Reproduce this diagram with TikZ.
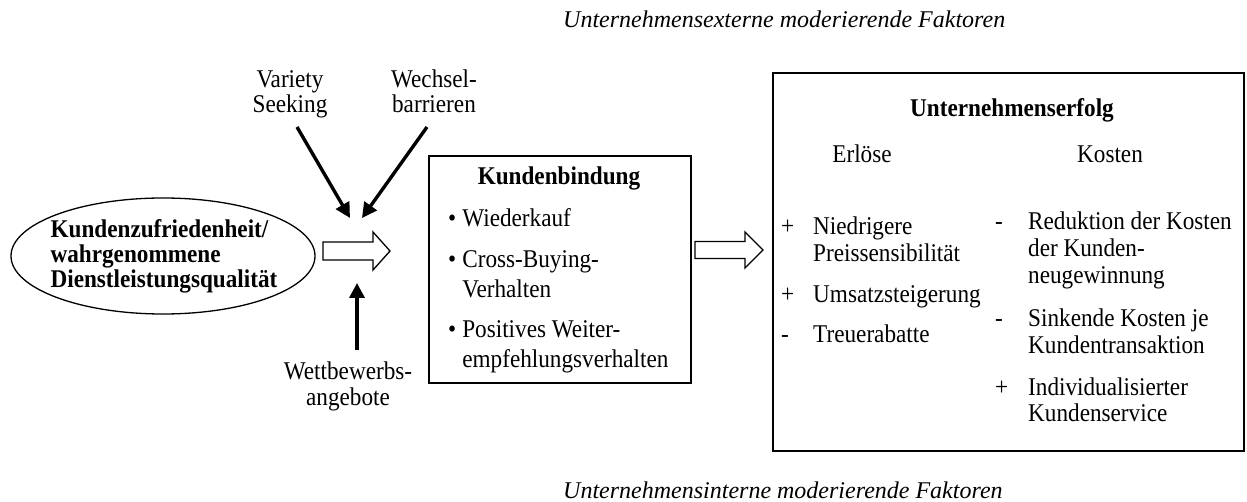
\documentclass[tikz,border=0pt]{standalone}
\usepackage{fontspec}
\setmainfont{Liberation Serif}
\usetikzlibrary{arrows.meta,shapes.geometric}
\begin{document}
\begin{tikzpicture}[x=1pt,y=-1pt,
  txt/.style={inner sep=0, yscale=1.1, font=\fontsize{23.2}{23.6}\selectfont},
  headtxt/.style={txt, font=\fontsize{23.2}{23.6}\selectfont\bfseries},
  facttxt/.style={inner sep=0, anchor=base west, font=\fontsize{24}{26}\selectfont\itshape},
  box/.style={draw, line width=1.6pt, inner sep=0, anchor=north west},
  blockarrow/.style={draw, line width=1.3pt, fill=white, line join=miter},
  influence/.style={line width=3.4pt, -{Triangle[length=15pt,width=15pt]}}]

\useasboundingbox (0,0) rectangle (1247,502);

% moderating factors (external / internal)
\node[facttxt] (extern) at (563,28) {Unternehmensexterne moderierende Faktoren};
\node[facttxt] (intern) at (563,498) {Unternehmensinterne moderierende Faktoren};

% satisfaction ellipse
\node[draw, ellipse, line width=1.3pt, minimum width=304, minimum height=116, inner sep=0] (sat) at (163,256) {};
\node[headtxt, align=left, font=\fontsize{23.2}{22.8}\selectfont\bfseries] (sattext) at (164,256)
  {Kundenzufriedenheit/\\wahrgenommene\\Dienstleistungsqualität};

% block arrow: satisfaction -> loyalty
\coordinate (a1) at (323,251);
\draw[blockarrow] (a1) ++(0,-9) -- ++(50,0) -- ++(0,-10) -- ++(17,19) -- ++(-17,19) -- ++(0,-10) -- ++(-50,0) -- cycle;

% moderating influences (base anchor = last line)
\node[txt, align=center, anchor=base] (vs) at (290,113) {Variety\\Seeking};
\node[txt, align=center, anchor=base] (wb) at (434,113) {Wechsel-\\barrieren};
\node[txt, align=center, anchor=base] (wa) at (348,405) {Wettbewerbs-\\angebote};
\coordinate (vsTail) at (297,127);
\coordinate (vsTip) at (350,218);
\coordinate (wbTail) at (427,127);
\coordinate (wbTip) at (362,218);
\coordinate (waTail) at (357,350);
\coordinate (waTip) at (357,283);
\draw[influence] (vsTail) -- (vsTip);
\draw[influence] (wbTail) -- (wbTip);
\draw[influence] (waTail) -- (waTip);

% customer loyalty box
\node[box, minimum width=262, minimum height=227] (kb) at (428,155) {};
\node[headtxt, anchor=base] (kbtitle) at (559,185) {Kundenbindung};
\node[txt, anchor=base west] (kblist) at (448,227) {\fontsize{23.2}{27.3}\selectfont
  \begin{tabular}[t]{@{}l@{\hspace{6pt}}l@{}}
  \textbullet & Wiederkauf\\[9.1pt]
  \textbullet & Cross-Buying-\\
              & Verhalten\\[9.1pt]
  \textbullet & Positives Weiter-\\
              & empfehlungsverhalten
  \end{tabular}};

% block arrow: loyalty -> success
\coordinate (a2) at (695,250);
\draw[blockarrow] (a2) ++(0,-8.5) -- ++(50,0) -- ++(0,-9.5) -- ++(18,18) -- ++(-18,18) -- ++(0,-9.5) -- ++(-50,0) -- cycle;

% company success box
\node[box, minimum width=471, minimum height=378] (ue) at (772,72) {};
\node[headtxt, anchor=base] (uetitle) at (1012,117) {Unternehmenserfolg};
\node[txt, anchor=base] (erl) at (862,163) {Erlöse};
\node[txt, anchor=base] (kos) at (1110,163) {Kosten};
\node[txt, anchor=base west] (erllist) at (781,235) {\fontsize{23.2}{24.5}\selectfont
  \begin{tabular}[t]{@{}p{32pt}@{}l@{}}
  + & Niedrigere\\
    & Preissensibilität\\[12.3pt]
  + & Umsatzsteigerung\\[12.3pt]
  - & Treuerabatte
  \end{tabular}};
\node[txt, anchor=base west] (koslist) at (995,230) {\fontsize{23.2}{24.1}\selectfont
  \begin{tabular}[t]{@{}p{33pt}@{}l@{}}
  - & Reduktion der Kosten\\
    & der Kunden-\\
    & neugewinnung\\[15.5pt]
  - & Sinkende Kosten je\\
    & Kundentransaktion\\[14.1pt]
  + & Individualisierter\\
    & Kundenservice
  \end{tabular}};

\end{tikzpicture}
\end{document}
